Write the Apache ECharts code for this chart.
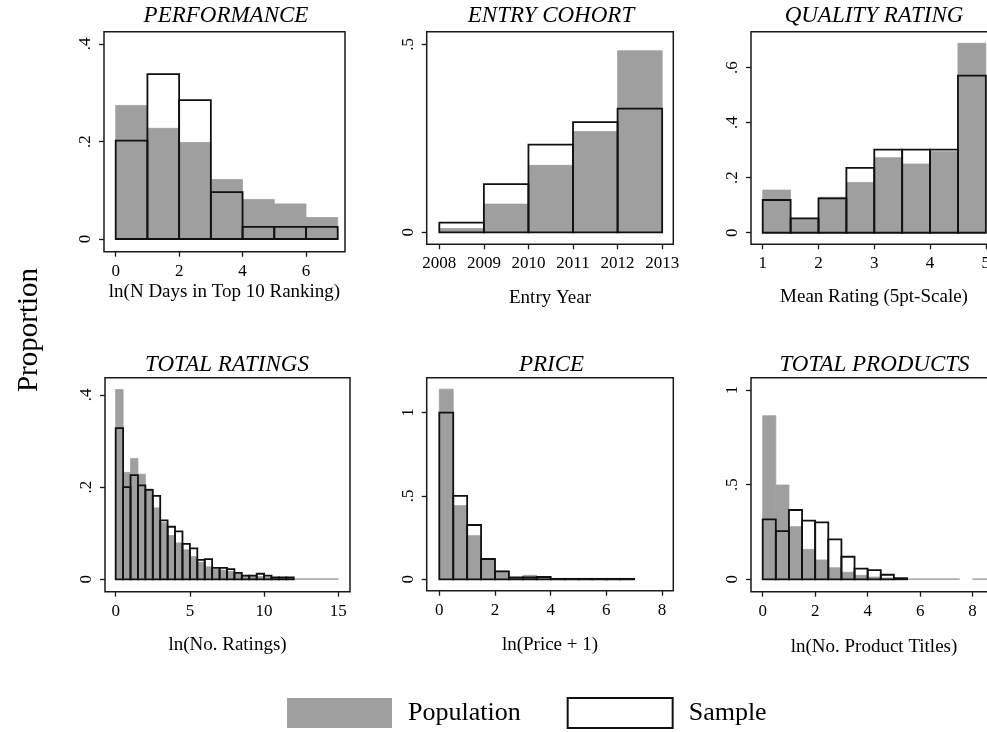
<!DOCTYPE html>
<html>
<head>
<meta charset="utf-8">
<script src="https://cdn.jsdelivr.net/npm/echarts@6/dist/echarts.min.js"></script>
<style>html,body{margin:0;padding:0;background:#fff}#chart{width:987px;height:732px}</style>
</head>
<body>
<div id="chart"></div>
<script>
// ---------------- DATA ----------------
// Performance: ln(N Days in Top 10 Ranking), bins of width 1 starting at 0
const perfBinStart = 0, perfBinWidth = 1;
const perfPopulation = [0.274, 0.227, 0.198, 0.122, 0.081, 0.072, 0.044];
const perfSample     = [0.202, 0.338, 0.285, 0.096, 0.025, 0.025, 0.025];
const perfXTicks = [0, 2, 4, 6];
const perfYTicks = [0, 0.2, 0.4];
const perfYTickLabels = ['0', '.2', '.4'];

// Entry cohort: entry year, bins of width 1 starting at 2008
const cohortBinStart = 2008, cohortBinWidth = 1;
const cohortPopulation = [0.010, 0.075, 0.178, 0.268, 0.483];
const cohortSample     = [0.026, 0.128, 0.233, 0.293, 0.329];
const cohortXTicks = [2008, 2009, 2010, 2011, 2012, 2013];
const cohortYTicks = [0, 0.5];
const cohortYTickLabels = ['0', '.5'];

// Quality rating: mean rating, bins of width 0.5 starting at 1
const qualityBinStart = 1, qualityBinWidth = 0.5;
const qualityPopulation = [0.155, 0.052, 0.129, 0.183, 0.273, 0.250, 0.295, 0.689];
const qualitySample     = [0.119, 0.052, 0.125, 0.236, 0.302, 0.302, 0.302, 0.571];
const qualityXTicks = [1, 2, 3, 4, 5];
const qualityYTicks = [0, 0.2, 0.4, 0.6];
const qualityYTickLabels = ['0', '.2', '.4', '.6'];

// Total ratings: ln(No. Ratings), bins of width 0.5 starting at 0
const ratingsBinStart = 0, ratingsBinWidth = 0.5;
const ratingsPopulation = [0.412, 0.232, 0.262, 0.228, 0.196, 0.155, 0.123, 0.095, 0.079, 0.064,
                           0.049, 0.037, 0.027, 0.022, 0.020, 0.017, 0.012, 0.008, 0.006, 0.006,
                           0.005, 0.003, 0.002, 0.002, 0.001, 0.001, 0.001, 0.001, 0.001, 0.001];
const ratingsSample     = [0.328, 0.200, 0.226, 0.204, 0.194, 0.181, 0.128, 0.114, 0.104, 0.077,
                           0.067, 0.042, 0.044, 0.025, 0.025, 0.022, 0.014, 0.008, 0.008, 0.012,
                           0.008, 0.004, 0.004, 0.004];
const ratingsXTicks = [0, 5, 10, 15];
const ratingsYTicks = [0, 0.2, 0.4];
const ratingsYTickLabels = ['0', '.2', '.4'];

// Price: ln(Price + 1), bins of width 0.5 starting at 0
const priceBinStart = 0, priceBinWidth = 0.5;
const pricePopulation = [1.140, 0.442, 0.262, 0.116, 0.050, 0.010, 0.024, 0.012, 0.004, 0.003, 0.003, 0.002, 0.002, 0.002];
const priceSample     = [1.000, 0.500, 0.326, 0.122, 0.048, 0.012, 0.012, 0.014, 0.003, 0.003, 0.003, 0.003, 0.003, 0.003];
const priceXTicks = [0, 2, 4, 6, 8];
const priceYTicks = [0, 0.5, 1];
const priceYTickLabels = ['0', '.5', '1'];

// Total products: ln(No. Product Titles), bins of width 0.5 starting at 0
const productsBinStart = 0, productsBinWidth = 0.5;
const productsPopulation = [0.864, 0.498, 0.278, 0.158, 0.102, 0.061, 0.037, 0.021, 0.012, 0.007,
                            0.004, 0.002, 0.002, 0.002, 0.002, 0, 0.002, 0.002];
const productsSample     = [0.317, 0.254, 0.366, 0.310, 0.301, 0.211, 0.119, 0.056, 0.049, 0.024, 0.006];
const productsXTicks = [0, 2, 4, 6, 8];
const productsYTicks = [0, 0.5, 1];
const productsYTickLabels = ['0', '.5', '1'];

const legendNames = ['Population', 'Sample'];
const yAxisTitle = 'Proportion';

// ---------------- LAYOUT / STYLE ----------------
const FONT = '"Liberation Serif", "Times New Roman", Times, serif';
const GRAY = '#9f9f9f';
const INK = '#1a1a1a';

const panels = [
  {title: 'PERFORMANCE', xName: 'ln(N Days in Top 10 Ranking)', pop: perfPopulation, samp: perfSample,
   start: perfBinStart, width: perfBinWidth, xTicks: perfXTicks, yTicks: perfYTicks, yLabels: perfYTickLabels,
   grid: {left: 104, top: 31.7, width: 241, height: 220}, x: [-0.369, 7.23], y: [-0.026, 0.4252], nameGap: 31, titleX: 226},
  {title: 'ENTRY COHORT', xName: 'Entry Year', pop: cohortPopulation, samp: cohortSample,
   start: cohortBinStart, width: cohortBinWidth, xTicks: cohortXTicks, yTicks: cohortYTicks, yLabels: cohortYTickLabels,
   grid: {left: 426.7, top: 31.7, width: 246.6, height: 212.6}, x: [2007.717, 2013.25], y: [-0.0319, 0.5335], nameGap: 44, titleX: 551},
  {title: 'QUALITY RATING', xName: 'Mean Rating (5pt-Scale)', pop: qualityPopulation, samp: qualitySample,
   start: qualityBinStart, width: qualityBinWidth, xTicks: qualityXTicks, yTicks: qualityYTicks, yLabels: qualityYTickLabels,
   grid: {left: 751, top: 31.7, width: 246, height: 212.6}, x: [0.79, 5.2], y: [-0.042, 0.731], nameGap: 43, titleX: 874},
  {title: 'TOTAL RATINGS', xName: 'ln(No. Ratings)', pop: ratingsPopulation, samp: ratingsSample,
   start: ratingsBinStart, width: ratingsBinWidth, xTicks: ratingsXTicks, yTicks: ratingsYTicks, yLabels: ratingsYTickLabels,
   grid: {left: 105, top: 377.7, width: 245, height: 214}, x: [-0.72, 15.79], y: [-0.0269, 0.4375], nameGap: 44, titleX: 227},
  {title: 'PRICE', xName: 'ln(Price + 1)', pop: pricePopulation, samp: priceSample,
   start: priceBinStart, width: priceBinWidth, xTicks: priceXTicks, yTicks: priceYTicks, yLabels: priceYTickLabels,
   grid: {left: 426.7, top: 377.7, width: 246.6, height: 213}, x: [-0.453, 8.405], y: [-0.068, 1.209], nameGap: 45, titleX: 551.5},
  {title: 'TOTAL PRODUCTS', xName: 'ln(No. Product Titles)', pop: productsPopulation, samp: productsSample,
   start: productsBinStart, width: productsBinWidth, xTicks: productsXTicks, yTicks: productsYTicks, yLabels: productsYTickLabels,
   grid: {left: 751, top: 377.7, width: 246, height: 214}, x: [-0.446, 8.93], y: [-0.0655, 1.065], nameGap: 46, titleX: 874.5}
];

function toBins(values, start, width) {
  return values.map((v, i) => [start + i * width, start + (i + 1) * width, v]);
}

function makeRender(isSample) {
  return function (params, api) {
    const v = api.value(2);
    if (!v) return null;
    const p0 = api.coord([api.value(0), 0]);
    const p1 = api.coord([api.value(1), v]);
    return {
      type: 'rect',
      shape: {x: p0[0], y: p1[1], width: p1[0] - p0[0], height: p0[1] - p1[1]},
      style: isSample
        ? {fill: 'none', stroke: '#111', lineWidth: 1.8}
        : {fill: GRAY, stroke: GRAY, lineWidth: 0.8}
    };
  };
}

const option = {
  animation: false,
  backgroundColor: '#fff',
  title: panels.map((p, i) => ({
    text: p.title, left: p.titleX, top: i < 3 ? 4 : 353, textAlign: 'center', padding: 0,
    textStyle: {fontFamily: FONT, fontStyle: 'italic', fontWeight: 'normal', fontSize: 23, color: '#000'}
  })),
  grid: panels.map(p => Object.assign({show: true, borderColor: INK, borderWidth: 1.5, backgroundColor: '#fff',
    containLabel: false, outerBoundsMode: 'none'}, p.grid)),
  xAxis: panels.map((p, i) => ({
    type: 'value', gridIndex: i, min: p.x[0], max: p.x[1], position: 'bottom',
    name: p.xName, nameLocation: 'middle', nameGap: p.nameGap,
    nameTextStyle: {fontFamily: FONT, fontSize: 19, color: '#000'},
    axisLine: {show: false, onZero: false},
    axisTick: {show: true, inside: false, length: 5, customValues: p.xTicks, lineStyle: {color: INK, width: 1.3}},
    axisLabel: {show: true, customValues: p.xTicks, margin: 11, formatter: v => String(v),
      fontFamily: FONT, fontSize: 17, color: '#000'},
    splitLine: {show: false}
  })),
  yAxis: panels.map((p, i) => ({
    type: 'value', gridIndex: i, min: p.y[0], max: p.y[1], position: 'left',
    axisLine: {show: false, onZero: false},
    axisTick: {show: true, inside: false, length: 5, customValues: p.yTicks, lineStyle: {color: INK, width: 1.3}},
    axisLabel: {show: true, customValues: p.yTicks, rotate: 90, margin: 10,
      formatter: v => { const k = p.yTicks.findIndex(t => Math.abs(t - v) < 1e-9); return k >= 0 ? p.yLabels[k] : ''; },
      fontFamily: FONT, fontSize: 17, color: '#000'},
    splitLine: {show: false}
  })),
  legend: {
    show: true, selectedMode: false, left: 287, top: 697, itemWidth: 105, itemHeight: 30, itemGap: 46,
    padding: 0,
    data: [
      {name: legendNames[0], icon: 'rect', itemStyle: {color: GRAY, borderWidth: 0}},
      {name: legendNames[1], icon: 'rect', itemStyle: {color: '#fff', borderColor: '#111', borderWidth: 2}}
    ],
    textStyle: {fontFamily: FONT, fontSize: 26, color: '#000', padding: [0, 0, 0, 11]}
  },
  graphic: [{
    type: 'text', x: 29, y: 330, rotation: Math.PI / 2,
    style: {text: yAxisTitle, fontFamily: FONT, fontSize: 29, fill: '#000', textAlign: 'center', textVerticalAlign: 'middle'}
  }],
  series: []
};

panels.forEach((p, i) => {
  option.series.push({
    type: 'custom', name: legendNames[0], xAxisIndex: i, yAxisIndex: i,
    itemStyle: {color: GRAY}, renderItem: makeRender(false),
    encode: {x: [0, 1], y: 2}, data: toBins(p.pop, p.start, p.width), z: 2
  });
  option.series.push({
    type: 'custom', name: legendNames[1], xAxisIndex: i, yAxisIndex: i,
    itemStyle: {color: '#fff', borderColor: '#111'}, renderItem: makeRender(true),
    encode: {x: [0, 1], y: 2}, data: toBins(p.samp, p.start, p.width), z: 3
  });
});

const chart = echarts.init(document.getElementById('chart'), null, {renderer: 'canvas'});
chart.setOption(option);
</script>
</body>
</html>
